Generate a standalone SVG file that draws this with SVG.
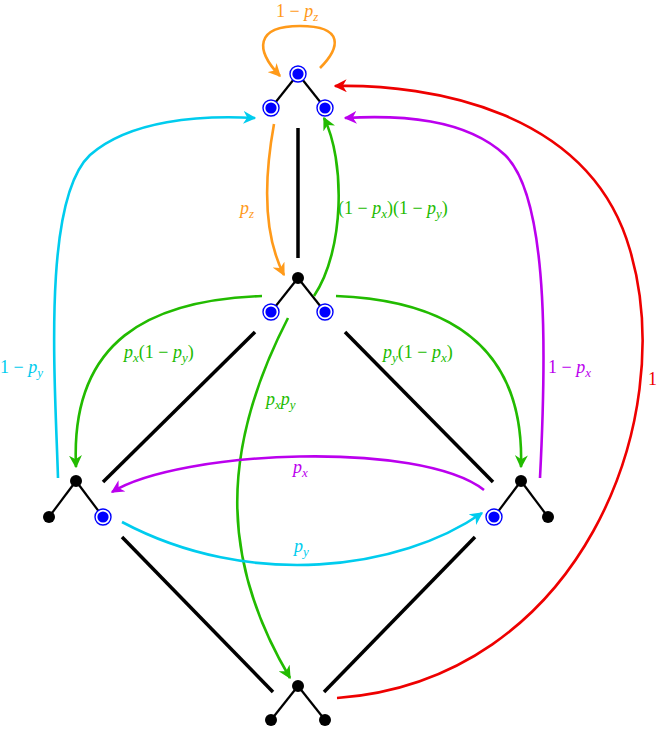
<svg xmlns="http://www.w3.org/2000/svg" width="658" height="729" viewBox="0 0 658 729">
<style>
.e{stroke:#000;stroke-width:3.5;fill:none}
.t{stroke:#000;stroke-width:2.2}
.a{fill:none;stroke-width:2.6}
text{font-family:"Liberation Serif",serif;font-size:18px}
.i{font-style:italic}
.s{font-size:13px;font-style:italic}
</style>
<defs>
<g id="b"><circle r="8" fill="#fff" stroke="#0000ff" stroke-width="1.4"/><circle r="5.6" fill="#0000ff"/></g>
<g id="k"><circle r="6" fill="#000"/></g>
<marker id="mo" viewBox="0 0 10 10" refX="9" refY="5" markerWidth="5" markerHeight="5" orient="auto"><path d="M0,0 L10,5 L0,10 L3,5z" fill="#ff9a1a"/></marker>
<marker id="mg" viewBox="0 0 10 10" refX="9" refY="5" markerWidth="5" markerHeight="5" orient="auto"><path d="M0,0 L10,5 L0,10 L3,5z" fill="#22bb00"/></marker>
<marker id="mc" viewBox="0 0 10 10" refX="9" refY="5" markerWidth="5" markerHeight="5" orient="auto"><path d="M0,0 L10,5 L0,10 L3,5z" fill="#00ccee"/></marker>
<marker id="mm" viewBox="0 0 10 10" refX="9" refY="5" markerWidth="5" markerHeight="5" orient="auto"><path d="M0,0 L10,5 L0,10 L3,5z" fill="#bb00ee"/></marker>
<marker id="mr" viewBox="0 0 10 10" refX="9" refY="5" markerWidth="5" markerHeight="5" orient="auto"><path d="M0,0 L10,5 L0,10 L3,5z" fill="#ee0000"/></marker>
</defs>
<g id="edges">
<line class="e" x1="298" y1="128" x2="298" y2="258"/>
<line class="e" x1="255" y1="332" x2="103" y2="482"/>
<line class="e" x1="345" y1="332" x2="493" y2="482"/>
<line class="e" x1="122" y1="537" x2="273" y2="692"/>
<line class="e" x1="475" y1="537" x2="324" y2="692"/>
</g>
<g id="n1"><line class="t" x1="298" y1="74" x2="271" y2="108"/><line class="t" x1="298" y1="74" x2="325" y2="108"/><use href="#b" x="298" y="74"/><use href="#b" x="271" y="108"/><use href="#b" x="325" y="108"/></g>
<g id="n2"><line class="t" x1="298" y1="278" x2="271" y2="312"/><line class="t" x1="298" y1="278" x2="325" y2="312"/><use href="#k" x="298" y="278"/><use href="#b" x="271" y="312"/><use href="#b" x="325" y="312"/></g>
<g id="n3"><line class="t" x1="76" y1="481" x2="49" y2="517"/><line class="t" x1="76" y1="481" x2="103" y2="517"/><use href="#k" x="76" y="481"/><use href="#k" x="49" y="517"/><use href="#b" x="103" y="517"/></g>
<g id="n4"><line class="t" x1="521" y1="481" x2="494" y2="517"/><line class="t" x1="521" y1="481" x2="548" y2="517"/><use href="#k" x="521" y="481"/><use href="#b" x="494" y="517"/><use href="#k" x="548" y="517"/></g>
<g id="n5"><line class="t" x1="298" y1="686" x2="271" y2="720"/><line class="t" x1="298" y1="686" x2="325" y2="720"/><use href="#k" x="298" y="686"/><use href="#k" x="271" y="720"/><use href="#k" x="325" y="720"/></g>
<g id="connectors">
<path class="a" stroke="#ff9a1a" marker-end="url(#mo)" d="M320,68 C340,48 345,26 300,26 C255,26 255,50 280,76"/>
<path class="a" stroke="#ff9a1a" marker-end="url(#mo)" d="M274,124 C262,190 266,240 284,275"/>
<path class="a" stroke="#22bb00" marker-end="url(#mg)" d="M314,296 C345,250 345,160 324,118"/>
<path class="a" stroke="#ee0000" marker-end="url(#mr)" d="M337,698 C580,680 680,420 630,250 C590,110 430,84 335,86"/>
<path class="a" stroke="#bb00ee" marker-end="url(#mm)" d="M540,478 C545,380 552,200 505,155 C465,118 400,115 345,118"/>
<path class="a" stroke="#00ccee" marker-end="url(#mc)" d="M58,478 C55,380 42,200 90,155 C130,120 200,115 255,118"/>
<path class="a" stroke="#22bb00" marker-end="url(#mg)" d="M262,296 C150,300 70,340 76,467"/>
<path class="a" stroke="#22bb00" marker-end="url(#mg)" d="M336,296 C440,300 525,340 521,467"/>
<path class="a" stroke="#22bb00" marker-end="url(#mg)" d="M288,318 C220,450 220,560 290,678"/>
<path class="a" stroke="#bb00ee" marker-end="url(#mm)" d="M484,490 C420,440 180,450 112,492"/>
<path class="a" stroke="#00ccee" marker-end="url(#mc)" d="M122,522 C250,590 400,570 482,513"/>
</g>
<g id="labels">
<text x="276" y="17" fill="#ff9a1a">1 − <tspan class="i">p</tspan><tspan class="s" dy="4">z</tspan></text>
<text x="240" y="214" fill="#ff9a1a"><tspan class="i">p</tspan><tspan class="s" dy="4">z</tspan></text>
<text x="338" y="214" fill="#22bb00">(1 − <tspan class="i">p</tspan><tspan class="s" dy="4">x</tspan><tspan dy="-4">)(1 − </tspan><tspan class="i">p</tspan><tspan class="s" dy="4">y</tspan><tspan dy="-4">)</tspan></text>
<text x="124" y="358" fill="#22bb00"><tspan class="i">p</tspan><tspan class="s" dy="4">x</tspan><tspan dy="-4">(1 − </tspan><tspan class="i">p</tspan><tspan class="s" dy="4">y</tspan><tspan dy="-4">)</tspan></text>
<text x="383" y="358" fill="#22bb00"><tspan class="i">p</tspan><tspan class="s" dy="4">y</tspan><tspan dy="-4">(1 − </tspan><tspan class="i">p</tspan><tspan class="s" dy="4">x</tspan><tspan dy="-4">)</tspan></text>
<text x="266" y="405" fill="#22bb00"><tspan class="i">p</tspan><tspan class="s" dy="4">x</tspan><tspan class="i" dy="-4">p</tspan><tspan class="s" dy="4">y</tspan></text>
<text x="0" y="373" fill="#00ccee">1 − <tspan class="i">p</tspan><tspan class="s" dy="4">y</tspan></text>
<text x="548" y="373" fill="#bb00ee">1 − <tspan class="i">p</tspan><tspan class="s" dy="4">x</tspan></text>
<text x="648" y="385" fill="#ee0000">1</text>
<text x="293" y="473" fill="#bb00ee"><tspan class="i">p</tspan><tspan class="s" dy="4">x</tspan></text>
<text x="294" y="552" fill="#00ccee"><tspan class="i">p</tspan><tspan class="s" dy="4">y</tspan></text>
</g>
</svg>
